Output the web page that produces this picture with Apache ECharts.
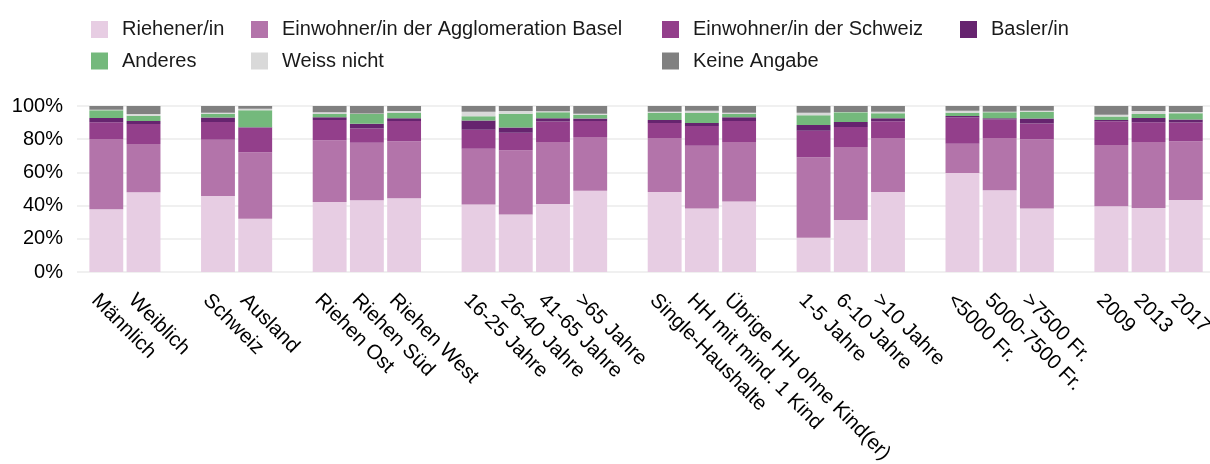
<!DOCTYPE html>
<html>
<head>
<meta charset="utf-8">
<script src="https://cdn.jsdelivr.net/npm/echarts@6/dist/echarts.min.js"></script>
<style>
html,body{margin:0;padding:0;background:#fff;}
#chart{width:1210px;height:464px;}
</style>
</head>
<body>
<div id="chart"></div>
<script>
// Categories (blank entries separate the groups)
const categories = [
  'Männlich','Weiblich',' ',
  'Schweiz','Ausland','  ',
  'Riehen Ost','Riehen Süd','Riehen West','   ',
  '16-25 Jahre','26-40 Jahre','41-65 Jahre','>65 Jahre','    ',
  'Single-Haushalte','HH mit mind. 1 Kind','Übrige HH ohne Kind(er)','     ',
  '1-5 Jahre','6-10 Jahre','>10 Jahre','      ',
  '<5000 Fr.','5000-7500 Fr.','>7500 Fr.','       ',
  '2009','2013','2017'
];
const seriesNames = ['Riehener/in','Einwohner/in der Agglomeration Basel','Einwohner/in der Schweiz','Basler/in','Anderes','Weiss nicht','Keine Angabe'];
const riehener   = [37.8,48.0,null, 45.8,32.1,null, 42.2,43.2,44.4,null, 40.6,34.7,41.0,49.0,null, 48.2,38.2,42.4,null, 20.7,31.3,48.2,null, 59.6,49.2,38.2,null, 39.6,38.6,43.4];
const agglo      = [42.3,29.1,null, 33.9,40.0,null, 37.1,34.7,34.3,null, 33.7,38.6,37.3,32.3,null, 32.5,37.9,35.9,null, 48.4,44.0,32.5,null, 17.7,31.5,41.7,null, 36.9,39.7,35.3];
const schweiz    = [10.1,12.1,null, 10.7,14.8,null, 12.3, 8.6,12.3,null, 11.4,10.6,12.3, 9.7,null,  9.1,11.9,12.7,null, 16.0,12.0,10.1,null, 15.7,11.1, 9.5,null, 14.3,11.9,11.3];
const basler     = [ 2.6, 1.8,null,  2.6, 0.3,null,  1.6, 2.8, 1.6,null,  5.5, 3.2, 2.0, 1.4,null,  1.8, 1.8, 2.2,null,  3.5, 3.1, 1.8,null,  1.0, 0.8, 3.0,null,  0.8, 2.6, 1.8];
const anderes    = [ 4.6, 3.2,null,  2.4,10.2,null,  2.0, 6.0, 3.2,null,  2.6, 8.3, 3.6, 2.4,null,  4.4, 6.0, 2.0,null,  5.8, 5.8, 3.0,null,  2.0, 3.6, 4.2,null,  2.0, 2.4, 3.8];
const weissNicht = [ 0.3, 1.0,null,  0.6, 1.0,null,  1.0, 0.2, 1.2,null,  2.8, 1.6, 0.6, 0.6,null,  0.6, 1.4, 0.8,null,  1.6, 0.2, 1.0,null,  1.2, 0.4, 0.6,null,  1.2, 1.8, 0.8];
const keine      = [ 2.3, 4.8,null,  4.0, 1.6,null,  3.8, 4.5, 3.0,null,  3.4, 3.0, 3.2, 4.6,null,  3.4, 2.8, 4.0,null,  4.0, 3.6, 3.4,null,  2.8, 3.4, 2.8,null,  5.2, 3.0, 3.6];
const yTicks = [0,20,40,60,80,100];

const colors = ['#e7cde3','#b374aa','#933f8b','#66246f','#74b97c','#d9d9d9','#808080'];
const values = [riehener, agglo, schweiz, basler, anderes, weissNicht, keine];

const font = '"Liberation Sans", Arial, Helvetica, sans-serif';
const chart = echarts.init(document.getElementById('chart'), null, {renderer:'canvas'});

function legendCol(left, names){
  return {
    left: left, top: 14.5, orient: 'vertical',
    data: names, icon: 'rect', itemWidth: 17, itemHeight: 17, itemGap: 11.5,
    selectedMode: false,
    textStyle: {fontFamily: font, fontSize: 20, color: '#1a1a1a', lineHeight: 20, padding: [0,0,0,9]}
  };
}

const option = {
  animation: false,
  backgroundColor: '#fff',
  legend: [
    legendCol(86, [seriesNames[0], seriesNames[4]]),
    legendCol(246, [seriesNames[1], seriesNames[5]]),
    legendCol(657, [seriesNames[2], seriesNames[6]]),
    legendCol(955, [seriesNames[3]])
  ],
  grid: [
    {left: 77, right: 0, top: 106, bottom: 192, outerBoundsMode: 'none', containLabel: false},
    {left: 87.7, right: 5.6, top: 106, bottom: 192, outerBoundsMode: 'none', containLabel: false}
  ],
  xAxis: [
    {gridIndex: 0, type: 'value', show: false, min: 0, max: 1},
    {gridIndex: 1, type: 'category', data: categories,
     axisLine: {show: false}, axisTick: {show: false},
     axisLabel: {interval: 0, rotate: -45, margin: 8, fontFamily: font, fontSize: 20.5, color: '#000',
                 align: 'left', verticalAlign: 'top', padding: [10,0,0,4], hideOverlap: false}}
  ],
  yAxis: [
    {gridIndex: 0, type: 'value', min: yTicks[0], max: yTicks[yTicks.length-1], interval: 20,
     axisLine: {show: false}, axisTick: {show: false},
     axisLabel: {formatter: '{value}%', fontFamily: font, fontSize: 20, color: '#000', margin: 14},
     splitLine: {lineStyle: {color: '#ebebeb', width: 1.5}}},
    {gridIndex: 1, type: 'value', min: 0, max: 100, show: false, splitLine: {show: false}}
  ],
  series: seriesNames.map((n, i) => ({
    name: n, type: 'bar', stack: 'total', xAxisIndex: 1, yAxisIndex: 1,
    data: values[i], barCategoryGap: '9%',
    itemStyle: {color: colors[i]},
    emphasis: {disabled: true}
  }))
};
chart.setOption(option);
</script>
</body>
</html>
